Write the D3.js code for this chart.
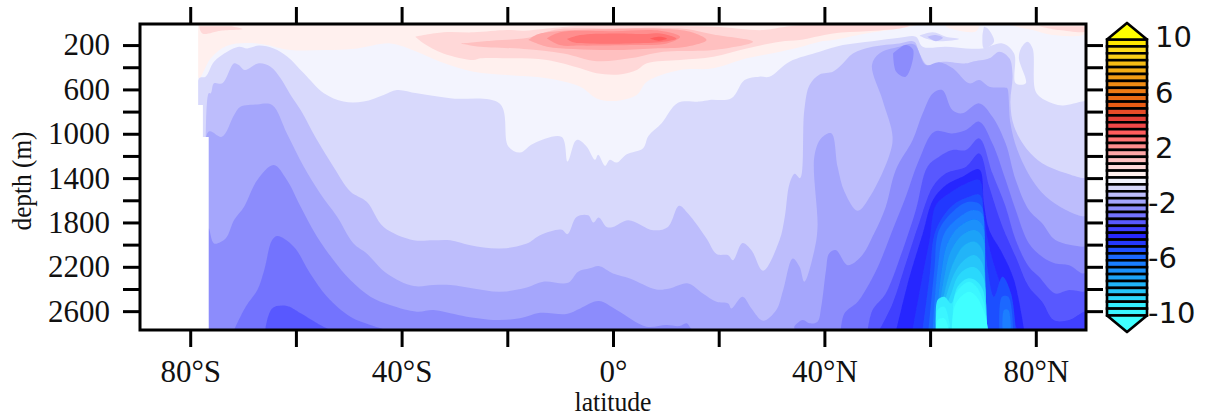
<!DOCTYPE html>
<html>
<head>
<meta charset="utf-8">
<script src="https://cdn.jsdelivr.net/npm/d3@7"></script>
<style>
    html, body { margin: 0; padding: 0; background: #fff; }
    #chart { width: 1209px; height: 416px; }
    .serif text, text.serif { font-family: "Liberation Serif", serif; fill: #111; }
    .axis path { display: none; }
    .axis line { stroke: #000; stroke-width: 3; }
</style>
</head>
<body>
<div id="chart"></div>
<script>
/* TICKS */
const latTicks = [-80, -60, -40, -20, 0, 20, 40, 60, 80];
const latLabels = {"-80": "80°S", "-40": "40°S", "0": "0°", "40": "40°N", "80": "80°N"};
const depthTicks = [200, 400, 600, 800, 1000, 1200, 1400, 1600, 1800, 2000, 2200, 2400, 2600];
const depthLabels = [200, 600, 1000, 1400, 1800, 2200, 2600];
const barLabels = [10, 6, 2, -2, -6, -10];

/* COLOUR OF EACH 0.5 WIDE BAND, FROM 10 DOWN TO -10 */
const bandColors = [
    "#ffe600", "#fbd81c", "#f8cc18", "#f6bc14", "#f4ac14", "#f29c14", "#f08c14", "#ee7c14", "#ea6c14", "#ea5c14",
    "#e84c28", "#e44038", "#f04848", "#ff5c5c", "#ff7474", "#ff8e8e", "#ffa6a6", "#ffc0c0", "#ffd8d8", "#fff0ee",
    "#f3f4fe", "#d8d9fc", "#bdbdfc", "#a5a6fc", "#8c8cfc", "#7373fe", "#5959ff", "#4040ff", "#2828ff", "#2438ff",
    "#1f50ff", "#1c68ff", "#1a7eff", "#1a90fb", "#1ca2f8", "#20b4f8", "#26c6fa", "#2cd8fc", "#34ecfe", "#3af6ff"
];
const capColors = ["#ffff00", "#40ffff"];

/* LAND MASK, [lat, depth] */
const land = [[-89.5,10],[-78.5,10],[-78.5,740],[-77.6,740],[-77.6,1030],[-76.5,1030],[-76.5,2770],[-89.5,2770]];

/* WARM CONTOURS, [lat, depth] */
const warm0a = [[-78.5,10],[-78.3,500],[-76.1,320],[-73,206],[-67.3,185],[-61,245],[-54.7,245],[-48.4,230],[-42.1,185],[-37.1,260],[-32.7,350],[-26.4,440],[-20.1,470],[-12.5,500],[-6.2,576],[-3.1,681],[0.1,705],[4.5,650],[6.4,531],[12.7,425],[19,410],[25.3,320],[31.6,260],[35.3,220],[39.1,170],[41.6,155],[47.9,95],[54.2,50],[57.3,20],[57.3,10]];
const warm0b = [[75.6,10],[75.6,20],[79.4,65],[83.1,110],[89.5,95],[89.5,10]];
const warm0c = [[63,10],[63,30],[65.5,70],[68.7,75],[69.5,10]];
const warm05a = [[-78.3,30],[-77.7,95],[-74.2,70],[-70.1,55],[-72.3,30]];
const warm05b = [[-37.4,125],[-32.1,85],[-26.4,85],[-20.1,65],[-16.9,70],[-12.5,50],[-6.2,25],[6.4,25],[19,35],[28.4,65],[32,40],[36,20],[47.9,20],[56.1,25],[54.2,50],[47.9,75],[41.6,95],[35.3,155],[31.6,170],[25.3,230],[19,305],[12.7,335],[6.4,365],[4.5,425],[1.3,465],[-3.1,455],[-6.2,410],[-12.5,335],[-18.8,320],[-25.1,320],[-26.4,335],[-32.1,275],[-35.8,185],[-37.4,125]];
const warm05c = [[80.6,30],[84.4,65],[89.5,75],[89.5,30]];
const warm1 = [[-28.9,185],[-23,160],[-16,135],[-12.5,80],[-10,55],[0.1,50],[9.5,45],[13.9,55],[19,105],[26.5,170],[19,245],[9.5,260],[3.2,320],[-3.1,345],[-9.4,275],[-16.9,235],[-25.1,215],[-28.9,185]];
const warm15 = [[-16,155],[-14.4,105],[-10.6,75],[0.1,55],[9.5,55],[14.6,80],[17.7,155],[13.9,215],[7.6,230],[0.1,245],[-7.5,235],[-12.5,215],[-16,155]];
const warm2 = [[-12.5,140],[-10,85],[0.1,75],[8.9,70],[12.7,125],[10.2,185],[3.2,200],[-6.2,205],[-10,200],[-12.5,140]];
const warm25 = [[-8.7,145],[-6.2,110],[0.1,95],[6.4,100],[8.9,95],[12,140],[9.5,170],[3.2,185],[-4.3,185],[-7.5,175],[-8.7,145]];
const warm3 = [[7,140],[8.9,125],[10.2,140],[8.6,160],[7,140]];

/* COLD CONTOURS, [lat, depth], EACH CLOSES ALONG THE BOTTOM */
const cold05 = [[-78.5,2770],[-78.3,500],[-77.1,485],[-75.5,350],[-73,260],[-70.8,215],[-69.2,230],[-67,205],[-64.2,230],[-61.6,305],[-58.5,455],[-54.7,635],[-51,710],[-47.2,710],[-43.4,650],[-40.9,605],[-37.1,635],[-30.8,680],[-21.4,730],[-19.8,1115],[-17.6,1170],[-15.1,1090],[-9.7,1030],[-8.6,1250],[-7.2,1070],[-6.6,1055],[-5,1115],[-3.4,1235],[-2.8,1190],[-1.5,1290],[-0.6,1235],[0.7,1260],[2.6,1185],[5.7,1130],[6.7,1020],[9.2,905],[12.3,720],[16.4,710],[18.3,695],[22.4,680],[24.9,515],[27.7,485],[29.6,485],[33.4,350],[39.1,260],[43.5,200],[49.1,165],[54.2,135],[57.3,125],[58.6,215],[63,215],[66.8,230],[69.9,230],[73.7,185],[75.9,275],[76.2,545],[78.1,545],[76.8,320],[77.2,230],[78.4,170],[79.4,230],[80,620],[81.9,700],[85,745],[88.8,710],[89.5,710],[89.5,2770]];
const cold05b = [[70.2,35],[69.9,125],[70.2,230],[72.1,170],[70.9,50],[70.2,35]];
const cold05c = [[58,115],[60.5,85],[63,125],[65.5,145],[61.7,165],[59.5,145],[58,115]];
const cold1 = [[-76.5,2770],[-76.5,635],[-76.1,635],[-75.5,545],[-73.9,545],[-71.7,365],[-70.8,380],[-69.7,425],[-67,365],[-64.8,395],[-62.9,500],[-61,650],[-59.1,786],[-56,1057],[-52.9,1297],[-49.7,1520],[-46.6,1613],[-43.4,1840],[-37.7,1960],[-34,1960],[-30.8,1960],[-27,2005],[-21.4,2035],[-16.3,1990],[-13.8,1915],[-9.7,1865],[-8.6,1905],[-6.9,1750],[-4.7,1735],[-3.7,1800],[-2.7,1755],[-1.2,1840],[0,1840],[2.9,1780],[7.6,1870],[10.4,1840],[12.5,1650],[14.2,1720],[17.7,1945],[19.6,2085],[21.8,2095],[22.7,2140],[24.5,1985],[26.2,2050],[28.4,2235],[31.5,1960],[32.5,1750],[33.4,1450],[34.4,1360],[35.4,1400],[36.2,785],[37.2,560],[39.1,465],[41.6,440],[43.2,380],[45.4,275],[49.1,215],[54.2,185],[57,170],[58,275],[59.5,380],[62.4,350],[66.8,365],[68,350],[71.2,320],[73.1,260],[75,320],[75.6,470],[75.2,725],[75.9,935],[78.4,1145],[81.2,1265],[85.6,1355],[88.8,1400],[89.5,1400],[89.5,2770]];
const cold1b = [[59.5,125],[61.1,110],[62.4,135],[61.1,165],[59.5,125]];
const cold15 = [[-76.5,2770],[-76.5,980],[-74,1027],[-71.7,831],[-70.5,756],[-67.3,735],[-64.5,741],[-61.7,997],[-58.5,1297],[-55.4,1538],[-52.2,1748],[-49.1,1989],[-46.6,2079],[-42.8,2260],[-37.7,2374],[-34,2365],[-30.8,2365],[-26.4,2395],[-21.4,2425],[-16.3,2386],[-13.2,2335],[-8.5,2344],[-6.6,2244],[-4.4,2214],[-2.7,2193],[0,2260],[3.2,2305],[8.2,2404],[10.7,2395],[14.2,2350],[17,2440],[19.6,2515],[21.8,2530],[22.4,2575],[24.5,2470],[26.2,2575],[28.4,2686],[30.9,2590],[32.2,2410],[34,2125],[35.3,2200],[36.2,2335],[38.1,2050],[38.7,1840],[38.1,1205],[39.4,1040],[41.3,995],[42.5,1297],[43.8,1523],[46.3,1694],[48.8,1553],[52.3,1192],[52.9,1027],[51,696],[49,380],[50.4,275],[54.2,215],[57,195],[59.2,380],[61.7,355],[64.3,410],[67.4,545],[69.3,515],[71.2,575],[74.3,585],[74.6,590],[75.2,905],[76.5,1145],[79.3,1415],[81.9,1565],[85.6,1685],[88.8,1745],[89.5,1745],[89.5,2770]];
const cold2 = [[-76.5,2770],[-76.5,1853],[-75.5,1989],[-73.3,1944],[-71.7,1778],[-69.8,1658],[-67.3,1417],[-64.2,1282],[-61.7,1417],[-59.1,1658],[-56,1929],[-52.9,2139],[-49.7,2320],[-45.9,2470],[-42.2,2545],[-37.1,2605],[-34,2590],[-30.8,2620],[-27.7,2650],[-22,2680],[-17.6,2665],[-13.8,2615],[-8.8,2625],[-6.2,2575],[-2.7,2509],[0.7,2590],[6.3,2740],[10.1,2725],[12.6,2735],[13.9,2710],[15.2,2770],[34.3,2770],[34.3,2740],[35.9,2680],[37.2,2710],[38.7,2695],[39.4,2560],[40.3,2230],[40.9,2080],[42.2,2050],[44.4,2185],[46.9,2110],[49.4,1900],[51.6,1660],[53.5,1327],[56.7,1057],[58.6,816],[60.5,636],[62.3,606],[64.2,786],[66.1,816],[69.3,726],[71.8,846],[74.3,1087],[76.2,1417],[78.7,1688],[81.2,1808],[83.7,1959],[88.8,2019],[89.5,2019],[89.5,2770]];
const cold2b = [[53,275],[55.4,200],[56.8,245],[55.4,485],[53.6,440],[53,275]];
const cold25a = [[-71.7,2770],[-69.5,2560],[-67.3,2410],[-66,2230],[-64.5,1959],[-63.5,1923],[-60.4,2019],[-57.3,2260],[-54.1,2470],[-49.7,2650],[-45.9,2725],[-42.8,2770]];
const cold25b = [[43.1,2770],[43.8,2620],[46.3,2515],[48.5,2350],[50.4,2170],[52.9,1869],[55.4,1568],[57.9,1237],[60.8,981],[64.2,997],[66.8,966],[69.3,891],[71.8,1087],[74.3,1417],[76.2,1688],[78.7,1989],[81.2,2109],[83.7,2170],[86.3,2185],[88.8,2260],[89.5,2260],[89.5,2770]];
const cold3a = [[-65.8,2770],[-64.5,2575],[-61.7,2554],[-59.1,2620],[-55.4,2725],[-53.5,2770]];
const cold3b = [[48.2,2770],[49.1,2590],[51.6,2440],[54.8,2050],[57.3,1688],[59.5,1297],[61.7,1207],[64.2,1147],[66.8,1147],[69.3,1042],[71.8,1357],[74.3,1658],[76.2,1959],[78.7,2200],[80.6,2290],[83.7,2440],[86.3,2410],[88.8,2425],[89.5,2425],[89.5,2770]];
const cold35 = [[50.4,2770],[52.9,2530],[55.4,2170],[57.9,1808],[60.5,1478],[63,1357],[66.8,1297],[69.3,1177],[71.2,1478],[73.7,1838],[76.2,2109],[78.7,2380],[81.2,2515],[83.4,2680],[86.3,2680],[89.5,2605],[89.5,2770]];
const cold4 = [[53.6,2770],[56.1,2290],[58.6,1900],[60.5,1600],[63,1463],[66.1,1388],[69.3,1322],[70.2,1628],[71.2,1869],[73.7,2080],[75.9,2320],[77.8,2770]];
const cold45 = [[56.7,2770],[58.3,2350],[59.9,1960],[61.1,1644],[63.6,1538],[66.8,1448],[69.3,1418],[70.2,1719],[70.9,1959],[72.4,2230],[74.3,2470],[76.5,2770]];
const cold5 = [[58.6,2770],[59.9,2290],[61.1,1869],[64.3,1644],[67.4,1568],[69.4,1553],[70.2,1869],[70.9,2230],[72.1,2470],[73.7,2290],[75.3,2440],[76.2,2770]];
const cold55a = [[59.7,2770],[60.8,2230],[61.7,1869],[64.6,1689],[67.4,1614],[69.6,1644],[70.2,2019],[70.7,2770]];
const cold55b = [[73.1,2770],[73.6,2470],[74.8,2470],[75.7,2770]];
const cold6a = [[60.5,2770],[61.4,2230],[62.7,1899],[65.2,1764],[68,1689],[69.8,1719],[70.2,2170],[70.7,2770]];
const cold6b = [[73.7,2770],[74,2590],[74.8,2590],[75.3,2770]];
const cold65 = [[61,2770],[62.1,2260],[63.3,1989],[65.5,1839],[68.4,1773],[69.9,1824],[70.4,2230],[70.7,2770]];
const cold7 = [[61.1,2770],[62.7,2290],[63.9,2065],[66.1,1914],[68.4,1869],[69.9,1929],[70.4,2320],[70.7,2770]];
const cold75 = [[61.2,2770],[63.3,2320],[64.6,2140],[66.5,2004],[68.5,1974],[69.9,2050],[70.4,2380],[70.7,2770]];
const cold8 = [[61.2,2770],[63.6,2380],[64.9,2230],[66.8,2125],[68.5,2095],[69.9,2170],[70.5,2440],[70.7,2770]];
const cold85 = [[61.2,2770],[64,2440],[65.2,2290],[66.9,2215],[68.5,2206],[70,2290],[70.6,2531],[70.7,2770]];
const cold9 = [[61.2,2770],[61.4,2500],[62.7,2470],[64,2531],[65.2,2380],[67.1,2305],[68.5,2320],[70,2410],[70.7,2770]];
const cold95a = [[64.3,2770],[64.6,2470],[65.8,2380],[67.4,2335],[68.8,2380],[70.2,2531],[70.9,2770]];
const cold95b = [[61.1,2770],[61.4,2590],[62.7,2561],[63.8,2740]];
const cold10a = [[64.1,2770],[64.6,2561],[65.8,2470],[67.4,2425],[68.8,2470],[70.2,2606],[71,2770]];
const cold10b = [[61.1,2770],[61.4,2681],[62.7,2666],[63.6,2770]];

/* CONTOUR VALUE OF EACH LINE, SAME ORDER AS contourValues, DRAWN IN THIS ORDER */
const contourLines = [
    warm0a, warm0b, warm0c, warm05a, warm05b, warm05c, warm1, warm15, warm2, warm25, warm3,
    cold05, cold05b, cold05c, cold1, cold1b, cold15, cold2, cold2b, cold25a, cold25b, cold3a, cold3b, cold35,
    cold4, cold45, cold5, cold55a, cold55b, cold6a, cold6b, cold65, cold7, cold75, cold8, cold85, cold9,
    cold95a, cold95b, cold10a, cold10b
];
const contourValues = [
    0, 0, 0, 0.5, 0.5, 0.5, 1, 1.5, 2, 2.5, 3,
    -0.5, -0.5, -0.5, -1, -1, -1.5, -2, -2, -2.5, -2.5, -3, -3, -3.5,
    -4, -4.5, -5, -5.5, -5.5, -6, -6, -6.5, -7, -7.5, -8, -8.5, -9,
    -9.5, -9.5, -10, -10
];


/*
DEFINE DIMENSIONS OF SVG + CREATE SVG CANVAS
*/
const width = 1209;
const height = 416;
const margin = {top: 24, left: 140, right: 123, bottom: 86};

const svg = d3.select("#chart")
    .append("svg")
    .attr("width", width)
    .attr("height", height);


/*
CREATE SCALES
*/
const xScale = d3.scaleLinear()
    .domain([-89.5, 89.5])
    .range([margin.left, width-margin.right]);

const yScale = d3.scaleLinear()
    .domain([10, 2770])
    .range([margin.top, height-margin.bottom]);

const barScale = d3.scaleLinear()
    .domain([10, -10])
    .range([39.5, 315.5]);

const labelScale = d3.scaleLinear()
    .domain([10, -10])
    .range([37, 313]);

// colour of the band just above a warm contour, just below a cold one
function contourColor(v) {
    const top = v >= 0 ? v + 0.5 : v;
    if (v <= -10) return capColors[1];
    return bandColors[Math.round((10 - top) * 2)];
}

const polygon = d3.line()
    .x(function(d) { return xScale(d[0]); })
    .y(function(d) { return yScale(d[1]); });

const smoothPolygon = d3.line()
    .x(function(d) { return xScale(d[0]); })
    .y(function(d) { return yScale(d[1]); })
    .curve(d3.curveCatmullRom.alpha(0.5));


/*
DRAW CONTOURS
*/
const defs = svg.append("defs");
defs.append("clipPath").attr("id", "plotClip")
    .append("rect")
    .attr("x", xScale.range()[0])
    .attr("y", yScale.range()[0])
    .attr("width", xScale.range()[1]-xScale.range()[0])
    .attr("height", yScale.range()[1]-yScale.range()[0]);
defs.append("filter").attr("id", "soft")
    .append("feGaussianBlur").attr("stdDeviation", 0.7);

const plot = svg.append("g").attr("clip-path", "url(#plotClip)")
    .append("g").attr("filter", "url(#soft)");

// everything not inside a contour sits in the 0 to -0.5 band
plot.append("rect")
    .attr("x", xScale(-89.5))
    .attr("y", yScale(10))
    .attr("width", xScale(89.5)-xScale(-89.5))
    .attr("height", yScale(2770)-yScale(10))
    .attr("fill", bandColors[20]);

plot.selectAll("path.contour")
    .data(contourLines)
    .enter()
    .append("path")
        .attr("class", "contour")
        .attr("d", function(d) { return smoothPolygon(d) + "Z"; })
        .attr("fill", function(d, i) { return contourColor(contourValues[i]); });

plot.append("path")
    .attr("d", polygon(land) + "Z")
    .attr("fill", "#ffffff");


/*
DRAW AXES
*/
const axisTicks = 17;

svg.append("g")
    .attr("class", "axis serif")
    .attr("transform", `translate(0,${yScale.range()[1]})`)
    .call(d3.axisBottom(xScale).tickValues(latTicks).tickSize(axisTicks).tickPadding(13)
        .tickFormat(function(d) { return latLabels[d] || ""; }))
    .selectAll("text").attr("font-size", 31);

svg.append("g")
    .attr("class", "axis")
    .attr("transform", `translate(0,${yScale.range()[0]})`)
    .call(d3.axisTop(xScale).tickValues(latTicks).tickSize(axisTicks).tickFormat(""));

svg.append("g")
    .attr("class", "axis serif")
    .attr("transform", `translate(${xScale.range()[0]},0)`)
    .call(d3.axisLeft(yScale).tickValues(depthTicks).tickSize(axisTicks).tickPadding(13)
        .tickFormat(function(d) { return depthLabels.includes(d) ? d : ""; }))
    .selectAll("text").attr("font-size", 31);

svg.append("g")
    .attr("class", "axis")
    .attr("transform", `translate(${xScale.range()[1]},0)`)
    .call(d3.axisRight(yScale).tickValues(depthTicks).tickSize(axisTicks).tickFormat(""));

svg.append("rect")
    .attr("x", xScale.range()[0])
    .attr("y", yScale.range()[0])
    .attr("width", xScale.range()[1]-xScale.range()[0])
    .attr("height", yScale.range()[1]-yScale.range()[0])
    .attr("fill", "none")
    .attr("stroke", "#000")
    .attr("stroke-width", 3);


/*
DRAW AXIS LABELS
*/
svg.append("text")
    .attr("class", "serif")
    .attr("x", xScale(0))
    .attr("y", 411)
    .attr("text-anchor", "middle")
    .attr("font-size", 28)
    .attr("textLength", 77)
    .attr("lengthAdjust", "spacingAndGlyphs")
    .text("latitude");

svg.append("text")
    .attr("class", "serif")
    .attr("transform", "rotate(-90)")
    .attr("x", -181)
    .attr("y", 31)
    .attr("text-anchor", "middle")
    .attr("font-size", 28)
    .attr("textLength", 99)
    .attr("lengthAdjust", "spacingAndGlyphs")
    .text("depth (m)");


/*
DRAW COLOUR BAR
*/
const barLeft = 1107;
const barRight = 1147;
const barMid = (barLeft + barRight) / 2;
const bar = svg.append("g");

bar.selectAll("rect")
    .data(bandColors)
    .enter()
    .append("rect")
        .attr("x", barLeft)
        .attr("y", function(d, i) { return barScale(10 - i/2); })
        .attr("width", barRight-barLeft)
        .attr("height", function(d, i) { return barScale(10 - (i+1)/2) - barScale(10 - i/2); })
        .attr("fill", function(d) { return d; })
        .attr("stroke", "#000")
        .attr("stroke-width", 2.6);

bar.append("path")
    .attr("d", `M${barLeft},${barScale(10)}L${barMid},${barScale(11.2)}L${barRight},${barScale(10)}Z`)
    .attr("fill", capColors[0])
    .attr("stroke", "#000")
    .attr("stroke-width", 2.6)
    .attr("stroke-linejoin", "round");

bar.append("path")
    .attr("d", `M${barLeft},${barScale(-10)}L${barMid},${barScale(-11.2)}L${barRight},${barScale(-10)}Z`)
    .attr("fill", capColors[1])
    .attr("stroke", "#000")
    .attr("stroke-width", 2.6)
    .attr("stroke-linejoin", "round");

bar.selectAll("text")
    .data(barLabels)
    .enter()
    .append("text")
        .attr("x", function(d) { return d < 0 ? 1148 : 1155; })
        .attr("y", function(d) { return labelScale(d); })
        .attr("dy", "0.36em")
        .attr("font-family", "'DejaVu Sans', sans-serif")
        .attr("font-size", 29)
        .attr("fill", "#111")
        .text(function(d) { return d; });
</script>
</body>
</html>
